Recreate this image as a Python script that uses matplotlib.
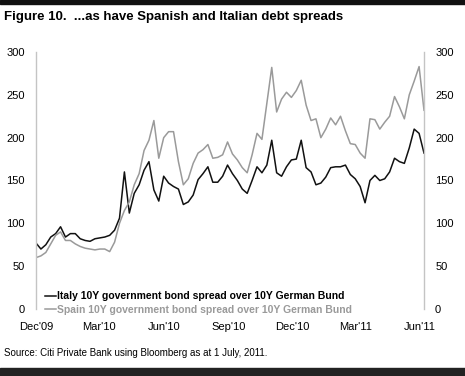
import numpy as np
import pandas as pd
import matplotlib
matplotlib.use("Agg")
import matplotlib.pyplot as plt
from matplotlib.patches import Rectangle

# weekly spreads (bp), starting 1 Dec 2009
italy = [77, 70, 75, 84, 88, 96, 84, 88, 88, 82,
         80, 79, 82, 83, 84, 86, 92, 106, 160, 112,
         135, 145, 162, 172, 139, 126, 155, 147, 143, 140,
         122, 125, 133, 151, 158, 166, 148, 148, 155, 168,
         158, 150, 140, 135, 150, 166, 159, 168, 197, 159,
         155, 166, 174, 175, 197, 165, 160, 145, 147, 154,
         165, 166, 166, 168, 157, 152, 143, 124, 150, 156,
         150, 152, 160, 176, 172, 170, 188, 210, 205, 182]
spain = [60, 62, 66, 76, 86, 90, 80, 80, 76, 73,
         71, 70, 69, 70, 70, 67, 78, 100, 115, 125,
         145, 158, 185, 197, 220, 176, 200, 207, 207, 172,
         145, 152, 170, 182, 186, 192, 176, 177, 180, 195,
         181, 174, 165, 159, 180, 205, 198, 240, 282, 230,
         245, 253, 247, 255, 267, 238, 220, 222, 200, 210,
         223, 215, 225, 208, 193, 192, 182, 176, 222, 221,
         210, 218, 225, 248, 236, 222, 250, 266, 283, 232]
dates = pd.date_range("2009-12-01", periods=len(italy), freq="7D")

tick_dates = pd.to_datetime(["2009-12-01", "2010-03-01", "2010-06-01", "2010-09-01",
                             "2010-12-01", "2011-03-01", "2011-06-01"])
tick_labels = ["Dec'09", "Mar'10", "Jun'10", "Sep'10", "Dec'10", "Mar'11", "Jun'11"]
yticks = [0, 50, 100, 150, 200, 250, 300]

plt.rcParams["font.family"] = ["Liberation Sans", "DejaVu Sans"]

fig = plt.figure(figsize=(4.65, 3.76), dpi=100)
ax = fig.add_axes([36 / 465, 1 - 309 / 376, (424 - 36) / 465, (309 - 52) / 376])

ax.plot(dates, italy, color="#111111", lw=1.1,
        label="Italy 10Y government bond spread over 10Y German Bund")
ax.plot(dates, spain, color="#9a9a9a", lw=1.1,
        label="Spain 10Y government bond spread over 10Y German Bund")

ax.set_xlim(dates[0], dates[-1])
ax.set_ylim(0, 300)
ax.set_xticks(tick_dates)
ax.set_xticklabels(tick_labels)
ax.set_yticks(yticks)
ax.tick_params(axis="x", length=0, pad=9, labelsize=8)
ax.tick_params(axis="y", length=0, pad=8, labelsize=8, right=True, labelright=True)

for s in ["top", "bottom"]:
    ax.spines[s].set_visible(False)
for s in ["left", "right"]:
    ax.spines[s].set_color("#c4c4c4")
    ax.spines[s].set_linewidth(1.0)

leg = ax.legend(loc="lower left", bbox_to_anchor=(0.0, -0.06), frameon=False,
                handlelength=1.0, handletextpad=0.1, labelspacing=0.35,
                prop={"weight": "bold", "size": 7.5})
leg.get_texts()[1].set_color("#9a9a9a")
leg.get_lines()[1].set_color("#9a9a9a")

fig.text(4 / 465, 1 - 17 / 376, "Figure 10.  ...as have Spanish and Italian debt spreads",
         fontsize=9.5, fontweight="bold", va="center", ha="left")
fig.text(4 / 465, 1 - 353 / 376, "Source: Citi Private Bank using Bloomberg as at 1 July, 2011.",
         fontsize=7, va="center", ha="left")

# dark bands at top and bottom of the exhibit
fig.patches.append(Rectangle((0, 1 - 4 / 376), 1, 4 / 376, transform=fig.transFigure,
                             color="#111111", zorder=0))
fig.patches.append(Rectangle((0, 0), 1, 8 / 376, transform=fig.transFigure,
                             color="#222222", zorder=0))

fig.savefig("out.png", dpi=100)
